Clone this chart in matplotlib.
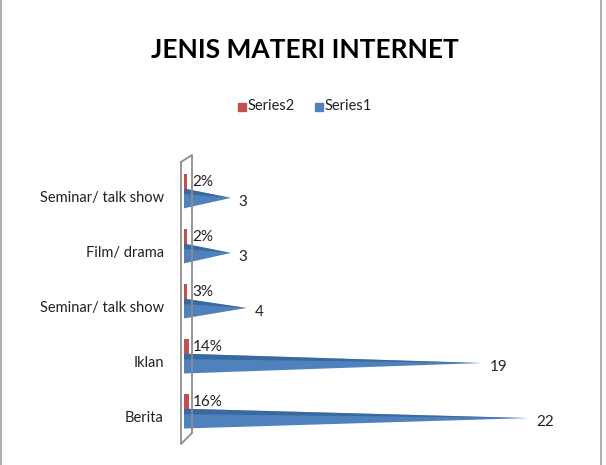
import matplotlib
matplotlib.use("Agg")
import matplotlib.pyplot as plt
from matplotlib.lines import Line2D
from matplotlib.patches import Polygon, Rectangle

# Data (bottom to top)
categories = ['Berita', 'Iklan', 'Seminar/ talk show', 'Film/ drama', 'Seminar/ talk show']
series1 = [22, 19, 4, 3, 3]
series2 = [0.16, 0.14, 0.03, 0.02, 0.02]

W, H = 606, 465
plt.rcParams['font.family'] = ['Lato', 'DejaVu Sans']
fig = plt.figure(figsize=(W / 100, H / 100), dpi=100)

def fx(px):
    return px / W

def fy(py):
    return 1 - py / H

# plot area in pixels
left, right, top, bottom = 184, 560, 150, 450
ax = fig.add_axes([fx(left), fy(bottom), fx(right - left), (bottom - top) / H])
ax.set_xlim(0, 24)
ax.set_ylim(-0.58, 4.87)
ax.axis('off')

blue = '#4f81bd'
dark_blue = '#2d5a8e'
red = '#c0504d'

for i, (v1, v2) in enumerate(zip(series1, series2)):
    # cone (series1)
    cone = Polygon([(0, i - 0.19), (0, i + 0.17), (v1, i)], closed=True,
                   facecolor=blue, edgecolor='none')
    ax.add_patch(cone)
    shade = Polygon([(0, i + 0.17), (0, i + 0.07), (v1, i)], closed=True,
                    facecolor=dark_blue, edgecolor='none', alpha=0.6)
    ax.add_patch(shade)
    ax.text(v1 + 0.5, i - 0.07, f'{v1}', fontsize=11, color='#222222',
            ha='left', va='center')
    # small bar (series2), drawn with a little 3D depth
    ax.barh(i + 0.3, v2 + 0.2, height=0.27, left=-0.05, color=red)
    ax.text(0.55, i + 0.29, f'{v2:.0%}', fontsize=11, color='#222222',
            ha='left', va='center')

# category labels
for i, c in enumerate(categories):
    ax.text(-1.3, i, c, fontsize=10.5, color='#222222', ha='right', va='center')

# back wall of the 3D plot
wall = [(181, 162), (192, 155), (192, 433), (181, 444), (181, 162)]
fig.add_artist(Line2D([fx(p[0]) for p in wall], [fy(p[1]) for p in wall],
                      color='#8c8c8c', lw=1.3))

# title and legend
fig.text(fx(305), fy(50), 'JENIS MATERI INTERNET', fontsize=19, fontweight='bold',
         ha='center', va='center', color='black')
fig.add_artist(Rectangle((fx(238), fy(111)), fx(8), 8 / H, color=red))
fig.text(fx(248), fy(106), 'Series2', fontsize=10.5, ha='left', va='center', color='#222222')
fig.add_artist(Rectangle((fx(315), fy(111)), fx(8), 8 / H, color=blue))
fig.text(fx(325), fy(106), 'Series1', fontsize=10.5, ha='left', va='center', color='#222222')

# chart border
fig.add_artist(Line2D([fx(1), fx(1)], [0, 1], color='#b0b0b0', lw=1.5))
fig.add_artist(Line2D([fx(601), fx(601)], [0, 1], color='#b0b0b0', lw=1.5))

fig.savefig('out.png', dpi=100)
